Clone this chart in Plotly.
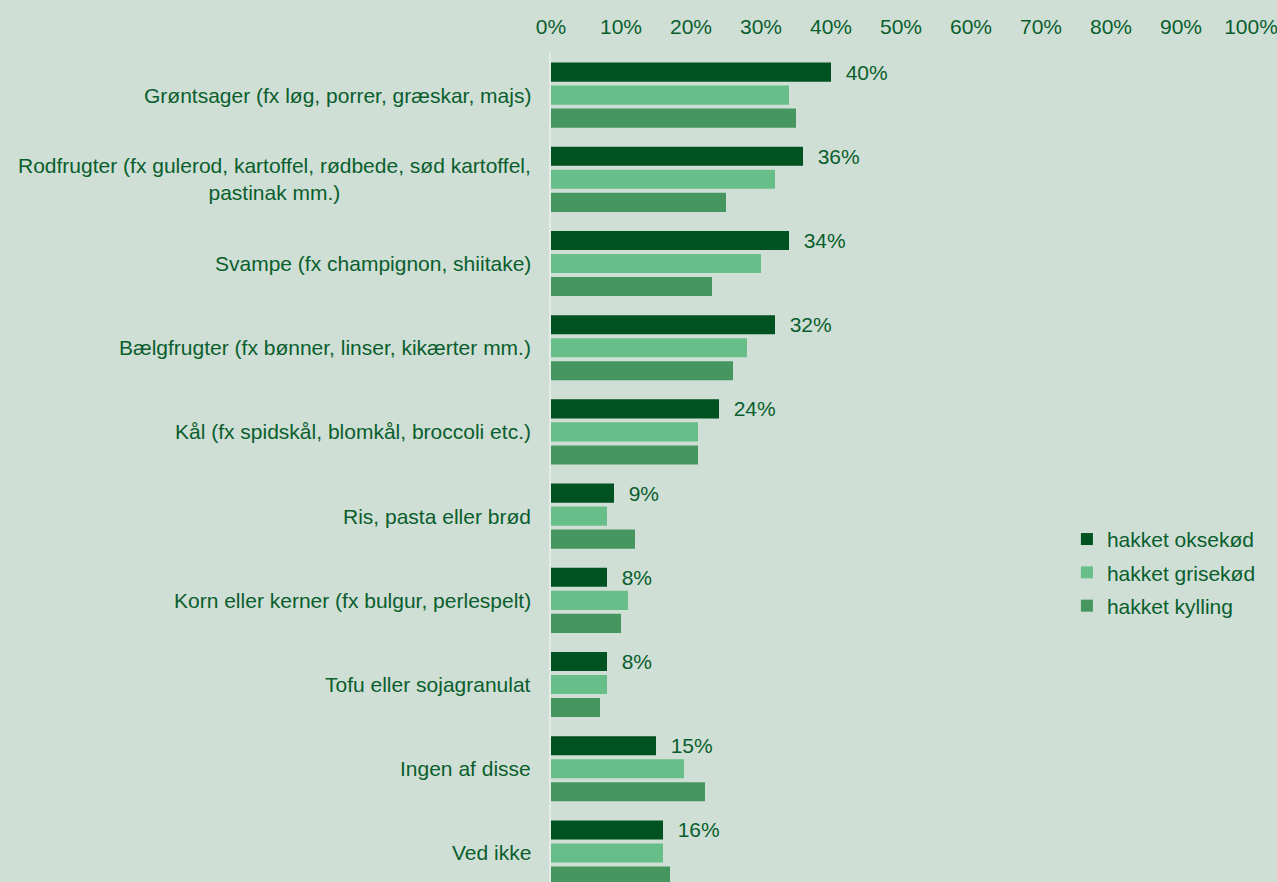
import plotly.graph_objects as go

categories = [
    "Grøntsager (fx løg, porrer, græskar, majs)",
    "Rodfrugter (fx gulerod, kartoffel, rødbede, sød kartoffel,<br>pastinak mm.)",
    "Svampe (fx champignon, shiitake)",
    "Bælgfrugter (fx bønner, linser, kikærter mm.)",
    "Kål (fx spidskål, blomkål, broccoli etc.)",
    "Ris, pasta eller brød",
    "Korn eller kerner (fx bulgur, perlespelt)",
    "Tofu eller sojagranulat",
    "Ingen af disse",
    "Ved ikke",
]
series_names = ["hakket oksekød", "hakket grisekød", "hakket kylling"]
okse = [40, 36, 34, 32, 24, 9, 8, 8, 15, 16]
gris = [34, 32, 30, 28, 21, 8, 11, 8, 19, 16]
kylling = [35, 25, 23, 26, 21, 12, 10, 7, 22, 17]
x_ticks = list(range(0, 101, 10))

colors = ["#005221", "#68be88", "#45975f"]
text_color = "#0a5e2d"
bg = "#cfdfd5"
font = "Liberation Sans, Arial, sans-serif"
fs = 21

ypos = list(range(len(categories)))

fig = go.Figure()
for k, (name, vals, col) in enumerate(zip(series_names, [okse, gris, kylling], colors)):
    kw = {}
    if name == "hakket oksekød":
        kw = dict(text=[f"\u00a0\u00a0{v}%" for v in vals], textposition="outside",
                  constraintext="none",
                  textfont=dict(size=fs, color=text_color, family=font), cliponaxis=False)
    fig.add_trace(go.Bar(y=ypos, x=vals, name=name, orientation="h", legendgroup=f"g{k}",
                         marker=dict(color=col, line=dict(width=0)), **kw))

for i, c in enumerate(categories):
    fig.add_annotation(x=0, xref="paper", y=i, yref="y", text=c, showarrow=False,
                       xanchor="right", xshift=-18, align="center",
                       font=dict(size=fs, color=text_color, family=font))

fig.update_layout(
    width=1277, height=882,
    margin=dict(l=551, r=26, t=53, b=0),
    paper_bgcolor=bg, plot_bgcolor=bg,
    barmode="group", bargap=0.18, bargroupgap=0.17,
    font=dict(family=font, size=fs, color=text_color),
    showlegend=True,
    legend=dict(x=0.737, y=0.438, xanchor="left", yanchor="top", traceorder="grouped",
                font=dict(size=fs, color=text_color, family=font),
                bgcolor="rgba(0,0,0,0)", itemwidth=30, tracegroupgap=3),
    xaxis=dict(side="top", range=[0, 100], tickvals=x_ticks, ticktext=[f"{t}%" for t in x_ticks],
               showgrid=False, zeroline=False, showline=False, ticks="",
               ticklabelstandoff=14, ticklabeloverflow="allow",
               tickfont=dict(size=fs, color=text_color, family=font)),
    yaxis=dict(range=[9.345, -0.5], showticklabels=False, showgrid=False, zeroline=False,
               showline=True, linecolor="#e4ebe6", linewidth=2, ticks=""),
)
fig.write_html("out.html")
